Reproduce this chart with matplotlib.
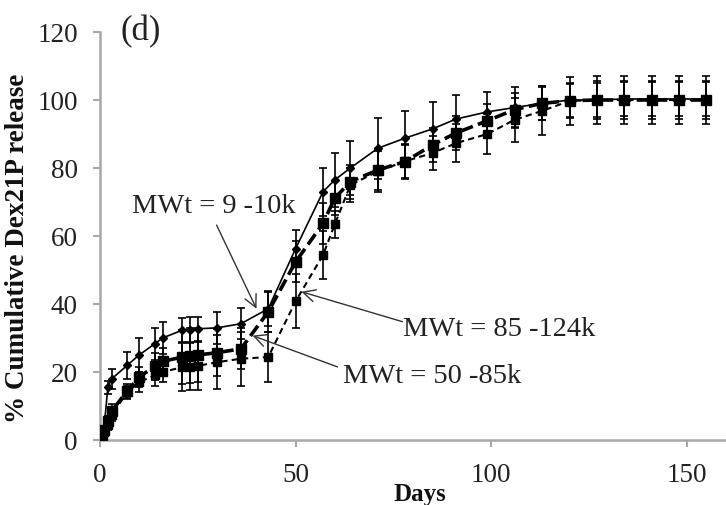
import matplotlib
matplotlib.use("Agg")
import matplotlib.pyplot as plt

plt.rcParams['font.family'] = ['Liberation Serif', 'DejaVu Serif']

days = [0, 0.5, 1, 2, 3, 7, 10, 14, 16, 21, 23, 25, 30, 36, 43, 50, 57, 60, 64,
        71, 78, 85, 91, 99, 106, 113, 120, 127, 134, 141, 148, 155]

mw_9_10k = [0, 1, 3, 15.5, 18, 22, 25, 28.3, 30, 32.3, 32.5, 32.7, 33, 34.2, 38.6,
            56.3, 73, 76.5, 80, 85.8, 88.8, 91.5, 94.4, 96.5, 97.8, 99, 100, 100,
            100.3, 100.3, 100.3, 100.3]
err_9_10k = [0, 0.5, 1, 2, 3, 4, 5, 4.7, 4.7, 3.6, 3.6, 3.6, 4.7, 4.6, 5, 5.4, 7, 8,
             8, 9, 8, 8, 7, 6, 6, 5, 5, 5, 5, 5, 5, 5]

mw_50_85k = [0, 1, 3, 5.5, 8.5, 14.5, 18.5, 21.7, 23.1, 24.4, 24.8, 25, 25.7, 26.8,
             37.7, 52.4, 63.7, 71.1, 76, 79.4, 81.9, 86.8, 90.3, 93.9, 97.2, 99,
             99.8, 100, 100, 100, 100, 100]
err_50_85k = [0, 0.5, 1, 1.5, 2, 2, 3, 4, 4, 8, 8, 8, 7, 6, 6, 6, 6, 5, 5, 6, 5, 5,
              5, 5, 5, 5, 5, 5.5, 5.5, 5.5, 5.5, 5.5]

mw_85_124k = [0, 0.8, 2.5, 4.5, 7.5, 14, 17, 19, 20, 21.4, 21.6, 21.8, 22.9, 23.9,
              24.4, 40.8, 54.4, 63.4, 75, 79, 82, 84.4, 87.3, 90, 94.2, 96.8, 99.7,
              100, 100, 100, 100, 100]
err_85_124k = [0, 0.5, 1, 1.5, 2, 2, 3, 3, 3, 7, 7, 7, 8, 8, 7.4, 8, 7, 4, 5, 6, 5,
               5, 5.5, 6, 6.5, 7, 7, 7, 7, 7, 7, 7]

x_ticks = [0, 50, 100, 150]
y_ticks = [0, 20, 40, 60, 80, 100, 120]

fig = plt.figure(figsize=(7.26, 5.06), dpi=100)
ax = fig.add_axes([100/726, 65/506, 626/726, 408/506])

ax.errorbar(days, mw_9_10k, yerr=err_9_10k, color='black', lw=1.2, marker='D',
            ms=4, capsize=3, elinewidth=1.2, capthick=1.2, zorder=3)
ax.errorbar(days, mw_50_85k, yerr=err_50_85k, color='black', lw=2.6, marker='s',
            ms=7, capsize=3, elinewidth=1.2, capthick=1.2, dashes=(3.5, 1.5), zorder=3)
ax.errorbar(days, mw_85_124k, yerr=err_85_124k, color='black', lw=1.5, marker='s',
            ms=5.5, capsize=3, elinewidth=1.2, capthick=1.2, dashes=(3, 2), zorder=3)

ax.set_xlim(0, 160)
ax.set_ylim(0, 120)
ax.set_xticks(x_ticks)
ax.set_yticks(y_ticks)
for s in ['top', 'right']:
    ax.spines[s].set_visible(False)
for s in ['left', 'bottom']:
    ax.spines[s].set_color('#a8a8a8')
    ax.spines[s].set_linewidth(1.8)
ax.tick_params(axis='both', colors='#a8a8a8', length=5, width=1.5,
               labelcolor='#222222', labelsize=19.5)
ax.tick_params(axis='y', pad=11)
ax.tick_params(axis='x', pad=11)

arrowprops = dict(arrowstyle='->', color='#333333', lw=1.0,
                  mutation_scale=22, shrinkA=0, shrinkB=0)
ax.annotate('', xy=(40, 38.6), xytext=(29.8, 63.2), arrowprops=arrowprops)
ax.text(8.2, 69, 'MWt = 9 -10k', fontsize=20.5, color='#222222', va='center', ha='left')
ax.annotate('', xy=(51.5, 43.6), xytext=(77.3, 34.8), arrowprops=arrowprops)
ax.text(77.5, 32.7, 'MWt = 85 -124k', fontsize=20.5, color='#222222', va='center', ha='left')
ax.annotate('', xy=(39, 30.7), xytext=(60.7, 21.5), arrowprops=arrowprops)
ax.text(62, 18.9, 'MWt = 50 -85k', fontsize=20.5, color='#222222', va='center', ha='left')

fig.text(141/726, 1 - 32/506, '(d)', fontsize=25, color='#222222', ha='center', va='center')
fig.text(18/726, 1 - 248/506, '% Cumulative Dex21P release', fontsize=19.5,
         fontweight='bold', rotation=90, ha='center', va='center', color='#111111')
fig.text(420/726, 1 - 495/506, 'Days', fontsize=18, fontweight='bold',
         ha='center', va='center', color='#111111')

fig.savefig('out.png', dpi=100)
